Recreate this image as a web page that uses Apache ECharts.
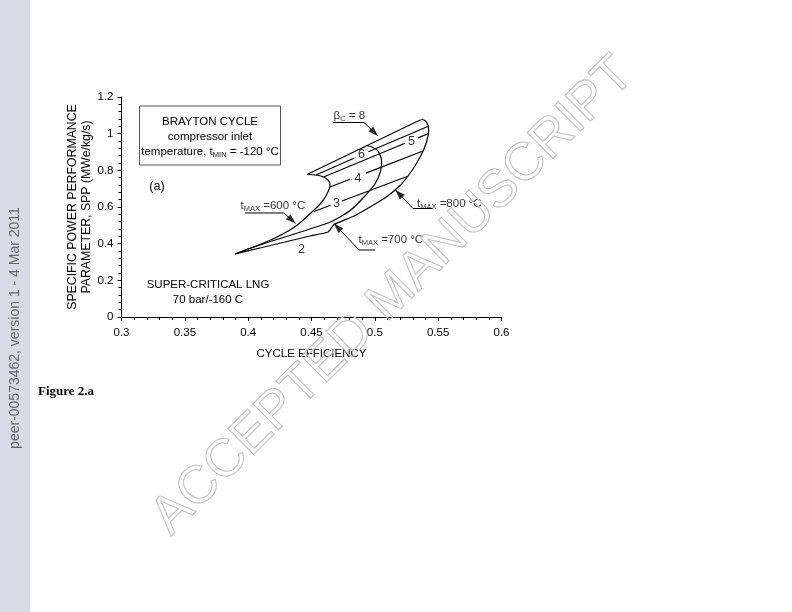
<!DOCTYPE html>
<html>
<head>
<meta charset="utf-8">
<script src="https://cdn.jsdelivr.net/npm/echarts@6/dist/echarts.min.js"></script>
<style>
html,body{margin:0;padding:0;background:#fff;}
#chart{width:792px;height:612px;}
</style>
</head>
<body>
<div id="chart"></div>
<script>
// ---- data (efficiency, SPP) ----
const t600 = [[0.3896,0.3436],[0.4062,0.3873],[0.4212,0.4309],[0.4378,0.4964],[0.4512,0.5782],[0.4575,0.6218],[0.4614,0.66],[0.4642,0.7036],[0.4646,0.7255],[0.463,0.7473],[0.4595,0.7636],[0.4536,0.7745],[0.4464,0.7773]];
const t700 = [[0.3896,0.3436],[0.4093,0.3927],[0.4291,0.4364],[0.4488,0.48],[0.463,0.5127],[0.4725,0.5455],[0.482,0.5891],[0.4914,0.6545],[0.5001,0.7255],[0.5045,0.7964],[0.5053,0.8564],[0.5025,0.9055],[0.4978,0.9273],[0.4934,0.9355]];
const t800 = [[0.3896,0.3436],[0.4093,0.3764],[0.4291,0.4091],[0.4488,0.4418],[0.463,0.4636],[0.4678,0.5045],[0.4836,0.5509],[0.4962,0.6],[0.5096,0.6573],[0.5199,0.7173],[0.5262,0.7691],[0.5317,0.8236],[0.5357,0.8727],[0.5388,0.9164],[0.5412,0.9655],[0.5425,1.0145],[0.542,1.0445],[0.5404,1.0664],[0.5376,1.0773],[0.5341,1.0691]];
// constant compressor pressure ratio lines: [start, gapStart, gapEnd, end]
const beta3 = [[0.452,0.5755],[0.465,0.6093],[0.4741,0.6327],[0.5254,0.7664]];
const beta4 = [[0.4646,0.7091],[0.4804,0.7511],[0.493,0.785],[0.538,0.9055]];
const beta5 = [[0.4595,0.7636],[0.5238,0.9475],[0.5341,0.977],[0.5424,1.001]];
const beta6 = [[0.4536,0.7745],[0.4839,0.8673],[0.4949,0.9011],[0.5418,1.0391]];
const beta8 = [[0.4464,0.7773],[0.5341,1.0691]];
const betaLabels = ['2','3','4','5','6'];
const betaLabelPos = [[0.4421,0.3655],[0.4697,0.6191],[0.4867,0.7527],[0.5289,0.9545],[0.4895,0.8836]];
// leader lines: tail, corner, arrow tip
const leader600 = [[0.3975,0.5673],[0.4283,0.5673],[0.4374,0.51]];
const leader700 = [[0.5001,0.3655],[0.4875,0.3655],[0.4678,0.51]];
const leader800 = [[0.5451,0.5918],[0.5301,0.5918],[0.5163,0.6927]];
const leaderBeta = [[0.467,1.061],[0.4914,1.061],[0.5025,0.9873]];
const annoTexts = ['{t|t}{s|MAX}{t| =600 °C}','{t|t}{s|MAX}{t| =700 °C}','{t|t}{s|MAX}{t| =800 °C}','{t|β}{s|C}{t| = 8}'];
const annoPos = [[0.3936,0.6082],[0.4867,0.42],[0.5329,0.6191],[0.467,1.0964]];

const FONT = '"Liberation Sans", Arial, Helvetica, sans-serif';
const LW = 1.2;
const chart = echarts.init(document.getElementById('chart'));
const leaders = [leader600, leader700, leader800, leaderBeta];

function curve(data, smooth){
  return {type:'line', data:data, showSymbol:false, symbol:'none', smooth:smooth||0,
    lineStyle:{color:'#000', width:LW}, silent:true, z:3};
}
function leader(pts){
  return {type:'line', data:pts, showSymbol:false, symbol:'none',
    lineStyle:{color:'#000', width:1}, silent:true, z:4};
}
const series = [curve(t600,0.2), curve(t700,0.2), curve(t800,0.15)];
[beta3,beta4,beta5,beta6].forEach(b=>{
  series.push(curve([b[0],b[1]]));
  series.push(curve([b[2],b[3]]));
});
series.push(curve(beta8));
leaders.forEach(l=>series.push(leader(l)));
series.push({id:'arrows', type:'scatter', symbol:'triangle', symbolSize:[7,10], silent:true, z:6,
  itemStyle:{color:'#000'}, data:[]});
series.push({type:'scatter', symbolSize:1, itemStyle:{color:'rgba(0,0,0,0)'}, silent:true, z:5,
  data:betaLabelPos.map((p,i)=>({value:p, name:betaLabels[i]})),
  label:{show:true, position:'inside', formatter:p=>p.name, color:'#000', fontSize:12.5, fontFamily:FONT}});
const rich = {t:{fontSize:11.5, fontFamily:FONT, color:'#000', lineHeight:14},
              s:{fontSize:7.5, fontFamily:FONT, color:'#000', lineHeight:8, verticalAlign:'bottom', padding:[7,0,0,0]}};
series.push({type:'scatter', symbolSize:1, itemStyle:{color:'rgba(0,0,0,0)'}, silent:true, z:5,
  data:annoPos.map((p,i)=>({value:p, name:annoTexts[i]})),
  label:{show:true, position:'right', distance:0, formatter:p=>p.name, rich:rich}});

const boxRich = {a:{fontSize:11.5, fontFamily:FONT, fill:'#000', lineHeight:14},
                 b:{fontSize:7.5, fontFamily:FONT, fill:'#000', lineHeight:8, verticalAlign:'bottom', padding:[7,0,0,0]}};

chart.setOption({
  animation:false,
  backgroundColor:'#fff',
  grid:{left:121.5, top:97, width:380, height:220, containLabel:false},
  xAxis:{type:'value', min:0.3, max:0.6, interval:0.05,
    name:'CYCLE EFFICIENCY', nameLocation:'middle', nameGap:31,
    nameTextStyle:{fontSize:11.5, fontFamily:FONT, color:'#000'},
    axisLine:{show:true, onZero:false, lineStyle:{color:'#000', width:1}},
    axisTick:{show:true, length:4, lineStyle:{color:'#000'}},
    minorTick:{show:true, splitNumber:5, length:3, lineStyle:{color:'#000'}},
    splitLine:{show:false},
    axisLabel:{fontSize:11.5, fontFamily:FONT, color:'#000', margin:10, formatter:v=>String(+v.toFixed(2))}},
  yAxis:{type:'value', min:0, max:1.2, interval:0.2,
    name:'SPECIFIC POWER PERFORMANCE\nPARAMETER, SPP (MWe/kg/s)', nameLocation:'middle', nameGap:28, nameRotate:90,
    nameTextStyle:{fontSize:12.3, fontFamily:FONT, color:'#000', lineHeight:14},
    axisLine:{show:true, onZero:false, lineStyle:{color:'#000', width:1}},
    axisTick:{show:true, length:4, lineStyle:{color:'#000'}},
    minorTick:{show:true, splitNumber:5, length:3, lineStyle:{color:'#000'}},
    splitLine:{show:false},
    axisLabel:{fontSize:11.5, fontFamily:FONT, color:'#000', margin:8, formatter:v=>String(+v.toFixed(2))}},
  series:series,
  graphic:[
    {type:'rect', silent:true, z:0, shape:{x:0,y:0,width:30,height:612}, style:{fill:'#d6dbe6'}},
    {type:'text', silent:true, z:1, x:15, y:328, rotation:Math.PI/2,
      style:{text:'peer-00573462, version 1 - 4 Mar 2011', fontSize:14, fontFamily:FONT, fill:'#666', align:'center', verticalAlign:'middle'}},
    {type:'text', silent:true, z:1, x:38, y:392,
      style:{text:'Figure 2.a', fontSize:13, fontWeight:'bold', fontFamily:'"Liberation Serif", "Times New Roman", serif', fill:'#000', align:'left', verticalAlign:'middle'}},
    {type:'rect', silent:true, z:10, shape:{x:139.5,y:106,width:141,height:59}, style:{fill:'#fff', stroke:'#555', lineWidth:1}},
    {type:'text', silent:true, z:11, x:210, y:122, style:{text:'BRAYTON CYCLE', fontSize:11.5, fontFamily:FONT, fill:'#000', align:'center', verticalAlign:'middle'}},
    {type:'text', silent:true, z:11, x:210, y:137, style:{text:'compressor inlet', fontSize:11.5, fontFamily:FONT, fill:'#000', align:'center', verticalAlign:'middle'}},
    {type:'text', silent:true, z:11, x:210, y:152, style:{text:'{a|temperature, t}{b|MIN}{a| = -120 °C}', rich:boxRich, align:'center', verticalAlign:'middle'}},
    {type:'text', silent:true, z:11, x:157, y:186.5, style:{text:'(a)', fontSize:12.5, fontFamily:FONT, fill:'#000', align:'center', verticalAlign:'middle'}},
    {type:'text', silent:true, z:11, x:208, y:285, style:{text:'SUPER-CRITICAL LNG', fontSize:11.5, fontFamily:FONT, fill:'#000', align:'center', verticalAlign:'middle'}},
    {type:'text', silent:true, z:11, x:208, y:300, style:{text:'70 bar/-160 C', fontSize:11.5, fontFamily:FONT, fill:'#000', align:'center', verticalAlign:'middle'}},
    {type:'text', silent:true, z:50, x:393, y:296, rotation:0.78,
      style:{text:'ACCEPTED MANUSCRIPT', fontSize:53, fontFamily:FONT, fill:'rgba(255,255,255,0)', stroke:'#c4c4c4', lineWidth:1.1, align:'center', verticalAlign:'middle'}}
  ]
});

// arrowheads: oriented along the last leader segment, computed through the chart's own scales
const arrowData = leaders.map(l=>{
  const a = chart.convertToPixel({gridIndex:0}, l[1]);
  const b = chart.convertToPixel({gridIndex:0}, l[2]);
  const dx = b[0]-a[0], dy = b[1]-a[1];
  const len = Math.sqrt(dx*dx+dy*dy);
  const c = [b[0]-dx/len*5, b[1]-dy/len*5];
  const rot = Math.atan2(-dy, dx)*180/Math.PI - 90;
  return {value: chart.convertFromPixel({gridIndex:0}, c), symbolRotate: rot};
});
chart.setOption({series:[{id:'arrows', data:arrowData}]});
</script>
</body>
</html>
